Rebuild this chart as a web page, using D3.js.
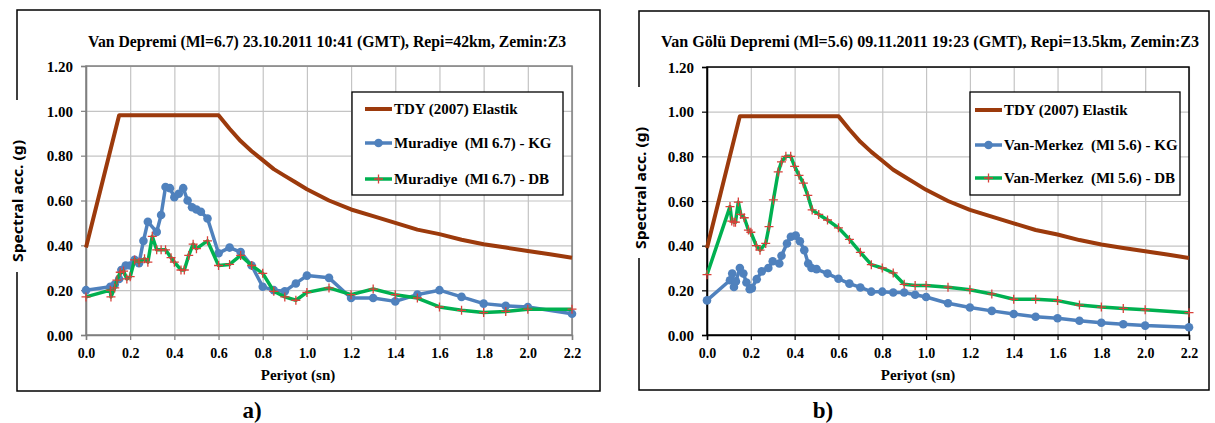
<!DOCTYPE html>
<html>
<head>
<meta charset="utf-8" />
<title>Van Depremi - Spektral ivme</title>
<script src="https://d3js.org/d3.v7.min.js"></script>
<style>
  body { margin: 0; background: #fff; }
  svg { display: block; }
  .serif { font-family: "Liberation Serif", "Times New Roman", Times, "DejaVu Serif", serif; font-weight: bold; }
  .sans { font-family: "Noto Sans", "Liberation Sans", sans-serif; font-weight: bold; }
</style>
</head>
<body>
<svg id="fig" width="1215" height="423"></svg>
<script>
var xTicks = [0.0, 0.2, 0.4, 0.6, 0.8, 1.0, 1.2, 1.4, 1.6, 1.8, 2.0, 2.2];
var yTicks = [0.0, 0.2, 0.4, 0.6, 0.8, 1.0, 1.2];

// TDY (2007) elastik tasarim spektrumu
var tdyT = [0, 0.15, 0.6, 0.65, 0.7, 0.75, 0.8, 0.85, 0.9, 0.95, 1.0, 1.1, 1.2, 1.3, 1.4, 1.5, 1.6, 1.7, 1.8, 1.9, 2.0, 2.1, 2.2];
var tdyV = [0.39, 0.98, 0.98, 0.92, 0.865, 0.82, 0.78, 0.74, 0.71, 0.68, 0.65, 0.60, 0.56, 0.53, 0.50, 0.47, 0.45, 0.425, 0.405, 0.39, 0.375, 0.36, 0.345];

// a) Muradiye (Ml 6.7)
var muradiyeKgT = [0, 0.11, 0.13, 0.15, 0.16, 0.18, 0.20, 0.22, 0.24, 0.26, 0.28, 0.32, 0.34, 0.36, 0.38, 0.40, 0.42, 0.44, 0.46, 0.48, 0.50, 0.52, 0.55, 0.60, 0.65, 0.70, 0.75, 0.80, 0.85, 0.90, 0.95, 1.0, 1.1, 1.2, 1.3, 1.4, 1.5, 1.6, 1.7, 1.8, 1.9, 2.0, 2.2];
var muradiyeKgV = [0.20, 0.215, 0.225, 0.25, 0.29, 0.31, 0.31, 0.335, 0.32, 0.42, 0.505, 0.46, 0.535, 0.66, 0.655, 0.615, 0.63, 0.655, 0.60, 0.57, 0.56, 0.55, 0.52, 0.365, 0.39, 0.37, 0.31, 0.215, 0.20, 0.195, 0.23, 0.265, 0.255, 0.165, 0.165, 0.15, 0.18, 0.20, 0.17, 0.14, 0.13, 0.125, 0.095];
var muradiyeDbT = [0, 0.11, 0.113, 0.13, 0.14, 0.155, 0.17, 0.185, 0.20, 0.22, 0.24, 0.265, 0.28, 0.30, 0.32, 0.34, 0.36, 0.385, 0.40, 0.43, 0.445, 0.465, 0.485, 0.50, 0.55, 0.60, 0.65, 0.70, 0.75, 0.80, 0.85, 0.90, 0.95, 1.0, 1.1, 1.2, 1.3, 1.4, 1.5, 1.6, 1.7, 1.8, 1.9, 2.0, 2.2];
var muradiyeDbV = [0.17, 0.20, 0.17, 0.21, 0.245, 0.28, 0.285, 0.25, 0.26, 0.335, 0.325, 0.34, 0.325, 0.44, 0.38, 0.38, 0.38, 0.345, 0.325, 0.29, 0.29, 0.355, 0.405, 0.385, 0.42, 0.31, 0.315, 0.355, 0.31, 0.275, 0.195, 0.17, 0.155, 0.19, 0.21, 0.18, 0.205, 0.18, 0.165, 0.125, 0.11, 0.10, 0.105, 0.115, 0.115];

// b) Van-Merkez (Ml 5.6)
var vanKgT = [0, 0.105, 0.115, 0.123, 0.132, 0.15, 0.166, 0.18, 0.195, 0.205, 0.227, 0.25, 0.28, 0.30, 0.33, 0.34, 0.365, 0.383, 0.405, 0.424, 0.444, 0.462, 0.477, 0.50, 0.55, 0.60, 0.65, 0.70, 0.75, 0.80, 0.85, 0.90, 0.95, 1.0, 1.1, 1.2, 1.3, 1.4, 1.5, 1.6, 1.7, 1.8, 1.9, 2.0, 2.2];
var vanKgV = [0.155, 0.245, 0.275, 0.215, 0.24, 0.30, 0.275, 0.235, 0.205, 0.21, 0.25, 0.285, 0.30, 0.33, 0.32, 0.355, 0.41, 0.44, 0.445, 0.42, 0.38, 0.32, 0.30, 0.295, 0.275, 0.252, 0.23, 0.213, 0.194, 0.194, 0.19, 0.19, 0.18, 0.17, 0.142, 0.123, 0.108, 0.094, 0.082, 0.075, 0.064, 0.055, 0.048, 0.042, 0.035];
var vanDbT = [0, 0.105, 0.113, 0.123, 0.13, 0.143, 0.154, 0.17, 0.189, 0.20, 0.225, 0.242, 0.268, 0.283, 0.303, 0.325, 0.34, 0.36, 0.382, 0.40, 0.42, 0.44, 0.46, 0.48, 0.51, 0.55, 0.60, 0.65, 0.70, 0.75, 0.80, 0.85, 0.90, 0.95, 1.0, 1.1, 1.2, 1.3, 1.4, 1.5, 1.6, 1.7, 1.8, 1.9, 2.0, 2.2];
var vanDbV = [0.27, 0.575, 0.51, 0.505, 0.505, 0.595, 0.54, 0.525, 0.47, 0.46, 0.40, 0.38, 0.41, 0.485, 0.605, 0.73, 0.775, 0.80, 0.80, 0.755, 0.715, 0.68, 0.625, 0.56, 0.54, 0.515, 0.48, 0.428, 0.37, 0.315, 0.30, 0.278, 0.227, 0.222, 0.222, 0.214, 0.203, 0.184, 0.16, 0.16, 0.154, 0.134, 0.125, 0.119, 0.113, 0.10];

var brown = "#9c3a0c", blue = "#4f81bd", green = "#00b050", red = "#d9403a";

function zip(t, v) {
    return t.map(function(d, i) { return [d, v[i]]; });
}

var charts = [
    {
        frame: [17, 10, 600, 391],
        plot: {left: 86, right: 572, top: 66, bottom: 335},
        axisColor: "#7f7f7f",
        title: "Van Depremi (Ml=6.7) 23.10.2011 10:41 (GMT), Repi=42km, Zemin:Z3",
        titleX: 327, titleLen: 478,
        yLabel: {x: 17, y: 201, gap: [100, 272]},
        xLabelX: 298,
        tag: "a)", tagX: 252,
        legend: {x: 352, y: 92, w: 211, h: 103, rows: [109, 143, 179], lineX: 365},
        names: ["TDY (2007) Elastik", "Muradiye  (Ml 6.7) - KG", "Muradiye  (Ml 6.7) - DB"],
        kg: zip(muradiyeKgT, muradiyeKgV),
        db: zip(muradiyeDbT, muradiyeDbV)
    },
    {
        frame: [639, 11, 1209, 390],
        plot: {left: 707, right: 1189, top: 67, bottom: 335},
        axisColor: "#000",
        title: "Van Gölü Depremi (Ml=5.6) 09.11.2011 19:23 (GMT), Repi=13.5km, Zemin:Z3",
        titleX: 930, titleLen: 538,
        yLabel: {x: 640, y: 188, gap: [87, 258]},
        xLabelX: 918,
        tag: "b)", tagX: 823,
        legend: {x: 970, y: 92, w: 210, h: 103, rows: [110, 145, 178], lineX: 975},
        names: ["TDY (2007) Elastik", "Van-Merkez  (Ml 5.6) - KG", "Van-Merkez  (Ml 5.6) - DB"],
        kg: zip(vanKgT, vanKgV),
        db: zip(vanDbT, vanDbV)
    }
];

var svg = d3.select("#fig");

function plusPath(s) {
    return "M" + (-s) + ",0H" + s + "M0," + (-s) + "V" + s;
}

function drawChart(c) {
    var g = svg.append("g");
    var p = c.plot;

    g.append("rect")
        .attr("x", c.frame[0]).attr("y", c.frame[1])
        .attr("width", c.frame[2] - c.frame[0])
        .attr("height", c.frame[3] - c.frame[1])
        .attr("fill", "#fff").attr("stroke", "#000").attr("stroke-width", 1.5);

    var x = d3.scaleLinear().domain([0, 2.2]).range([p.left, p.right]);
    var y = d3.scaleLinear().domain([0, 1.2]).range([p.bottom, p.top]);

    // grid lines
    g.append("g")
        .attr("transform", "translate(0," + p.bottom + ")")
        .call(d3.axisBottom(x).tickValues(xTicks).tickSize(-(p.bottom - p.top)).tickFormat(""))
        .call(function(s) { s.select(".domain").remove(); })
        .selectAll("line").attr("stroke", "#c4c4c4").attr("stroke-width", 1.2);
    g.append("g")
        .attr("transform", "translate(" + p.left + ",0)")
        .call(d3.axisLeft(y).tickValues(yTicks).tickSize(-(p.right - p.left)).tickFormat(""))
        .call(function(s) { s.select(".domain").remove(); })
        .selectAll("line").attr("stroke", "#c4c4c4").attr("stroke-width", 1.2);

    g.append("rect")
        .attr("x", p.left).attr("y", p.top)
        .attr("width", p.right - p.left).attr("height", p.bottom - p.top)
        .attr("fill", "none").attr("stroke", c.axisColor).attr("stroke-width", 1.5);

    // axes
    var xa = g.append("g")
        .attr("transform", "translate(0," + p.bottom + ")")
        .call(d3.axisBottom(x).tickValues(xTicks).tickSize(5).tickFormat(d3.format(".1f")));
    var ya = g.append("g")
        .attr("transform", "translate(" + p.left + ",0)")
        .call(d3.axisLeft(y).tickValues(yTicks).tickSize(5).tickPadding(8).tickFormat(d3.format(".2f")));
    [xa, ya].forEach(function(a) {
        a.attr("font-family", null).attr("font-size", null);
        a.select(".domain").attr("stroke", c.axisColor).attr("stroke-width", 1.5);
        a.selectAll(".tick line").attr("stroke", c.axisColor).attr("stroke-width", 1.2);
        a.selectAll("text").attr("class", "serif").attr("fill", "#000");
    });
    xa.selectAll("text").style("font-size", "14px").attr("y", 23).attr("dy", null);
    ya.selectAll("text").style("font-size", "15px").attr("dy", "0.35em");

    // titles
    g.append("text")
        .attr("class", "serif")
        .attr("x", c.titleX).attr("y", 47)
        .attr("text-anchor", "middle")
        .style("font-size", "16px")
        .attr("textLength", c.titleLen).attr("lengthAdjust", "spacingAndGlyphs")
        .text(c.title);

    g.append("rect")
        .attr("x", c.yLabel.x - 12).attr("y", c.yLabel.gap[0])
        .attr("width", 24).attr("height", c.yLabel.gap[1] - c.yLabel.gap[0])
        .attr("fill", "#fff");
    g.append("text")
        .attr("class", "sans")
        .attr("transform", "translate(" + (c.yLabel.x + 6) + "," + c.yLabel.y + ") rotate(-90)")
        .attr("text-anchor", "middle")
        .style("font-size", "15px")
        .attr("textLength", 122).attr("lengthAdjust", "spacingAndGlyphs")
        .text("Spectral acc. (g)");

    g.append("text")
        .attr("class", "serif")
        .attr("x", c.xLabelX).attr("y", 380)
        .attr("text-anchor", "middle")
        .style("font-size", "15px")
        .text("Periyot (sn)");

    svg.append("text")
        .attr("class", "serif")
        .attr("x", c.tagX).attr("y", 418)
        .attr("text-anchor", "middle")
        .style("font-size", "23px")
        .text(c.tag);

    // series
    var line = d3.line().x(function(d) { return x(d[0]); }).y(function(d) { return y(d[1]); });

    g.append("path").datum(zip(tdyT, tdyV))
        .attr("d", line).attr("fill", "none")
        .attr("stroke", brown).attr("stroke-width", 4).attr("stroke-linejoin", "round");

    g.append("path").datum(c.kg)
        .attr("d", line).attr("fill", "none")
        .attr("stroke", blue).attr("stroke-width", 3.5).attr("stroke-linejoin", "round");
    g.append("g").selectAll("circle").data(c.kg).join("circle")
        .attr("cx", function(d) { return x(d[0]); })
        .attr("cy", function(d) { return y(d[1]); })
        .attr("r", 4.3).attr("fill", blue);

    g.append("path").datum(c.db)
        .attr("d", line).attr("fill", "none")
        .attr("stroke", green).attr("stroke-width", 3.5).attr("stroke-linejoin", "round");
    g.append("g").selectAll("path").data(c.db).join("path")
        .attr("transform", function(d) { return "translate(" + x(d[0]) + "," + y(d[1]) + ")"; })
        .attr("d", plusPath(4.5))
        .attr("stroke", red).attr("stroke-width", 1.3).attr("fill", "none");

    // legend
    var L = c.legend;
    var lg = g.append("g");
    lg.append("rect")
        .attr("x", L.x).attr("y", L.y).attr("width", L.w).attr("height", L.h)
        .attr("fill", "#fff").attr("stroke", "#000").attr("stroke-width", 1.3);
    var colors = [brown, blue, green];
    L.rows.forEach(function(ry, i) {
        lg.append("line")
            .attr("x1", L.lineX).attr("x2", L.lineX + 27)
            .attr("y1", ry).attr("y2", ry)
            .attr("stroke", colors[i]).attr("stroke-width", i === 0 ? 4 : 3.5);
        if (i === 1) {
            lg.append("circle").attr("cx", L.lineX + 13.5).attr("cy", ry).attr("r", 4.3).attr("fill", blue);
        }
        if (i === 2) {
            lg.append("path").attr("transform", "translate(" + (L.lineX + 13.5) + "," + ry + ")")
                .attr("d", plusPath(4.5)).attr("stroke", red).attr("stroke-width", 1.3);
        }
        lg.append("text")
            .attr("class", "serif")
            .attr("x", L.lineX + 29).attr("y", ry + 5)
            .style("font-size", "15px")
            .style("white-space", "pre")
            .text(c.names[i]);
    });
}

charts.forEach(drawChart);
</script>
</body>
</html>
